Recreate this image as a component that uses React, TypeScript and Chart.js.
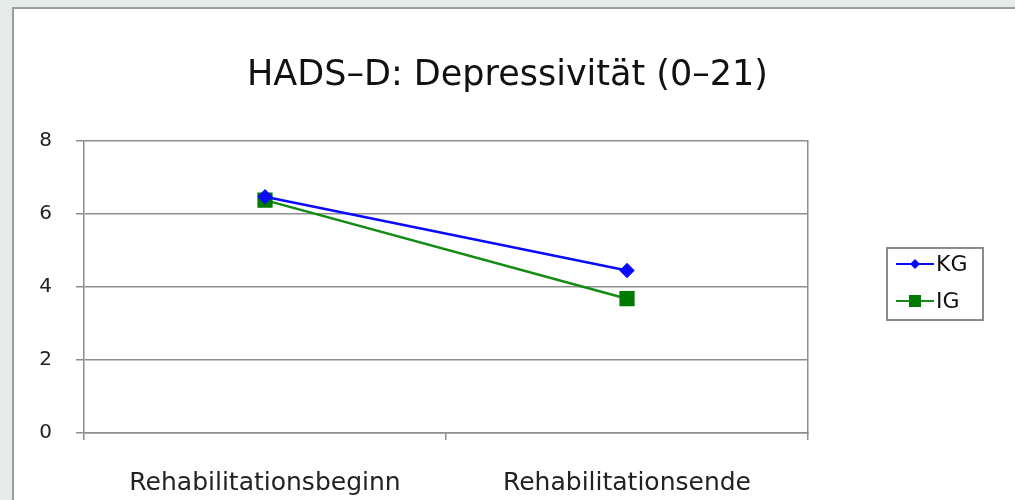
import React, { useEffect, useRef } from "react";
import { Chart, registerables } from "chart.js";

Chart.register(...registerables);

const categories = ["Rehabilitationsbeginn", "Rehabilitationsende"];
const seriesNames = ["KG", "IG"];
const kgValues = [6.47, 4.45];
const igValues = [6.38, 3.68];
const yTicks = [0, 2, 4, 6, 8];
const titleText = "HADS\u2013D: Depressivit\u00e4t (0\u201321)";

const FONT = "'DejaVu Sans', sans-serif";
const GRID = "#8e8e8e";

const legendPlugin = {
  id: "boxLegend",
  afterDraw(chart: any) {
    const ctx = chart.ctx;
    ctx.save();
    ctx.strokeStyle = "#8c8c8c";
    ctx.lineWidth = 2;
    ctx.strokeRect(887, 248, 96, 72);
    chart.data.datasets.forEach((ds: any, i: number) => {
      const y = 264 + i * 37;
      ctx.strokeStyle = ds.borderColor;
      ctx.lineWidth = 2;
      ctx.beginPath();
      ctx.moveTo(896, y);
      ctx.lineTo(934, y);
      ctx.stroke();
      ctx.fillStyle = ds.pointBackgroundColor;
      ctx.beginPath();
      if (ds.pointStyle === "rectRot") {
        const r = 5;
        ctx.moveTo(915, y - r);
        ctx.lineTo(915 + r, y);
        ctx.lineTo(915, y + r);
        ctx.lineTo(915 - r, y);
        ctx.closePath();
      } else {
        ctx.rect(915 - 6, y - 6, 12, 12);
      }
      ctx.fill();
      ctx.fillStyle = "#111";
      ctx.font = `22px ${FONT}`;
      ctx.textAlign = "left";
      ctx.textBaseline = "middle";
      ctx.fillText(ds.label, 936, y + 1);
    });
    ctx.restore();
  },
};

export default function App() {
  const ref = useRef<HTMLCanvasElement | null>(null);
  useEffect(() => {
    if (!ref.current) return;
    const chart = new Chart(ref.current, {
      type: "line",
      data: {
        labels: categories,
        datasets: [
          {
            label: seriesNames[0],
            data: kgValues,
            borderColor: "#0a0aff",
            backgroundColor: "#0a0aff",
            pointBackgroundColor: "#0a0aff",
            pointBorderColor: "#0a0aff",
            pointStyle: "rectRot",
            pointRadius: 6,
            borderWidth: 2.5,
          },
          {
            label: seriesNames[1],
            data: igValues,
            borderColor: "#138c13",
            backgroundColor: "#007a00",
            pointBackgroundColor: "#007a00",
            pointBorderColor: "#007a00",
            pointStyle: "rect",
            pointRadius: 9,
            borderWidth: 2.5,
          },
        ],
      },
      options: {
        responsive: false,
        animation: false,
        layout: { padding: 0 },
        plugins: {
          legend: { display: false },
          tooltip: { enabled: false },
          title: {
            display: true,
            text: titleText,
            color: "#111",
            font: { family: FONT, size: 35, weight: "normal" },
            padding: { top: 55, bottom: 44 },
          },
        },
        scales: {
          x: {
            offset: true,
            grid: {
              offset: true,
              drawOnChartArea: false,
              drawTicks: true,
              tickLength: 7,
              color: GRID,
              lineWidth: 1.5,
            },
            border: { display: true, color: GRID, width: 1.5 },
            ticks: {
              color: "#222",
              font: { family: FONT, size: 25 },
              padding: 28,
              maxRotation: 0,
            },
            afterFit(scale: any) {
              scale.height = 67;
            },
          },
          y: {
            min: 0,
            max: 8,
            afterBuildTicks(scale: any) {
              scale.ticks = yTicks.map((v) => ({ value: v }));
            },
            grid: { color: GRID, lineWidth: 1.5, tickLength: 8 },
            border: { display: true, color: GRID, width: 1.5 },
            ticks: {
              color: "#222",
              font: { family: FONT, size: 20 },
              padding: 24,
            },
            afterFit(scale: any) {
              scale.width = 84;
            },
          },
          y2: {
            position: "right",
            min: 0,
            max: 8,
            grid: { display: false },
            border: { display: true, color: GRID, width: 1.5 },
            ticks: { display: false },
            afterFit(scale: any) {
              scale.width = 207;
            },
          },
        },
      },
      plugins: [legendPlugin],
    } as any);
    return () => chart.destroy();
  }, []);

  return (
    <div
      style={{
        position: "fixed",
        left: 0,
        top: 0,
        width: 1015,
        height: 500,
        background: "#e5ebe9",
        overflow: "hidden",
      }}
    >
      <div
        style={{
          position: "absolute",
          left: 12,
          top: 7,
          width: 1020,
          height: 510,
          background: "#ffffff",
          border: "2px solid #9a9f9d",
        }}
      />
      <canvas
        ref={ref}
        width={1015}
        height={500}
        style={{ position: "absolute", left: 0, top: 0, width: 1015, height: 500 }}
      />
    </div>
  );
}
